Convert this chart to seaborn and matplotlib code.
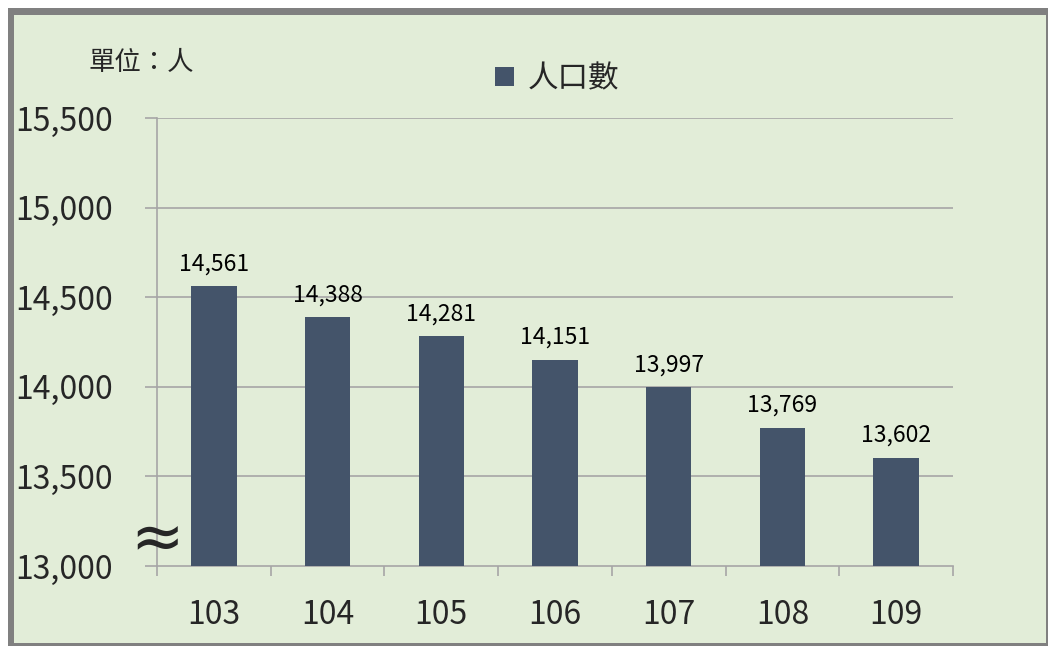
import matplotlib
matplotlib.use("Agg")
import matplotlib.pyplot as plt
import matplotlib.patches as mpatches
import matplotlib.transforms as mtransforms
import seaborn as sns
import pandas as pd

years = ["103", "104", "105", "106", "107", "108", "109"]
population = [14561, 14388, 14281, 14151, 13997, 13769, 13602]
y_ticks = [13000, 13500, 14000, 14500, 15000, 15500]

sns.set_style("white")
plt.rcParams['font.family'] = ['Noto Sans CJK TC', 'DejaVu Sans']

W, H = 1049, 646
fig = plt.figure(figsize=(W / 100, H / 100), dpi=100, facecolor="white")

# frame: gray shadow border + light green panel
def px_rect(x0, y0, x1, y1, **kw):
    return mpatches.Rectangle((x0 / W, 1 - y1 / H), (x1 - x0) / W, (y1 - y0) / H,
                              transform=fig.transFigure, **kw)

fig.patches.append(px_rect(8, 8, 1048, 646, facecolor="#808080", edgecolor="none", zorder=-2))
fig.patches.append(px_rect(14, 15, 1046, 643, facecolor="#E2EDD8", edgecolor="none", zorder=-1))

ax = fig.add_axes([157 / W, 1 - 566 / H, (953 - 157) / W, (566 - 118) / H])
ax.set_facecolor("none")

df = pd.DataFrame({"year": years, "pop": population})
sns.barplot(data=df, x="year", y="pop", color="#44546A", width=0.4,
            saturation=1, linewidth=0, label="人口數", ax=ax, zorder=3)

ax.set_ylim(13000, 15500)
ax.set_yticks(y_ticks)
ax.set_yticklabels([f"{v:,}" for v in y_ticks], ha="left")
ax.set_xlim(-0.5, len(years) - 0.5)
ax.set_xlabel("")
ax.set_ylabel("")

for v in y_ticks[1:]:
    ax.axhline(v, color="#A6A6A6", lw=1.2, zorder=1)

for side in ["top", "right"]:
    ax.spines[side].set_visible(False)
for side in ["left", "bottom"]:
    ax.spines[side].set_color("#A6A6A6")
    ax.spines[side].set_linewidth(1.2)

ax.tick_params(axis="y", direction="out", length=9, width=1.2, color="#A6A6A6",
               labelsize=23, pad=93, left=True)
ax.tick_params(axis="x", which="major", length=0, labelsize=23, pad=24)
ax.set_xticks([i - 0.5 for i in range(len(years) + 1)], minor=True)
ax.tick_params(axis="x", which="minor", direction="out", length=7, width=1.2,
               color="#A6A6A6", bottom=True)

ax.bar_label(ax.containers[0], labels=[f"{v:,}" for v in population],
             padding=8, fontsize=16.5, color="#000000")

# axis break mark
trans = mtransforms.blended_transform_factory(ax.transAxes, ax.transData)
ax.text(0.0, 13150, "≈", transform=trans, ha="center", va="center",
        fontsize=46, family=["DejaVu Sans"], clip_on=False, zorder=5)

fig.text(88 / W, 1 - 62 / H, "單位：人", fontsize=19, va="center", ha="left")

ax.legend(loc="center", bbox_to_anchor=(557 / W, 1 - 79 / H), bbox_transform=fig.transFigure,
          frameon=False, fontsize=22, handlelength=0.6, handleheight=0.6, handletextpad=0.45)

fig.savefig("out.png", dpi=100, facecolor="white")
